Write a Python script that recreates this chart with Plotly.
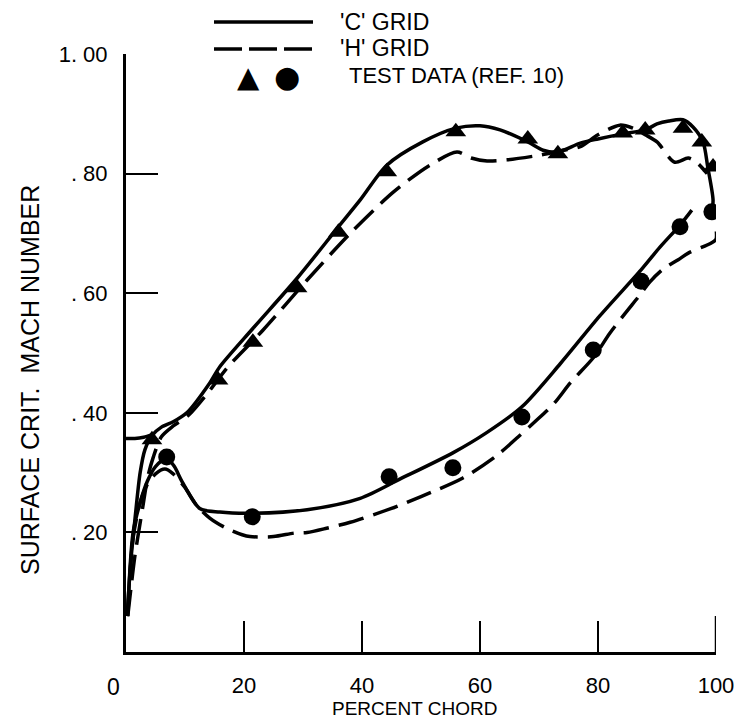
import plotly.graph_objects as go

# ---- data ----
# test data, upper surface (triangles)
tri_x = [4.4, 15.6, 21.5, 29.0, 36.0, 44.2, 55.9, 68.1, 73.2, 84.2, 88.0, 94.4, 97.6, 99.5]
tri_y = [0.355, 0.455, 0.518, 0.609, 0.702, 0.803, 0.870, 0.858, 0.833, 0.868, 0.873, 0.876, 0.853, 0.811]
# test data, lower surface (circles)
cir_x = [6.9, 21.4, 44.6, 55.4, 67.1, 79.2, 87.3, 93.9, 99.3]
cir_y = [0.326, 0.226, 0.293, 0.308, 0.393, 0.505, 0.620, 0.711, 0.736]

# 'C' grid, upper surface (solid), from leading-edge stagnation
cu_x = [0.2, 0.8, 1.5, 2.4, 3.2, 4.4, 6, 8, 10.3, 14.2, 15.9, 21.5, 29, 36, 39.7, 44.2, 50.3,
        55.9, 60, 63.4, 68.1, 70.7, 73.2, 77, 80, 84, 88, 90, 92, 94.4, 96.1, 97.8, 98.6, 99.5, 99.3]
cu_y = [0.06, 0.15, 0.22, 0.30, 0.338, 0.362, 0.376, 0.385, 0.40, 0.45, 0.477, 0.541, 0.625, 0.711,
        0.756, 0.814, 0.853, 0.876, 0.880, 0.873, 0.853, 0.839, 0.836, 0.851, 0.858, 0.866, 0.873,
        0.883, 0.888, 0.890, 0.878, 0.853, 0.811, 0.756, 0.736]
# 'C' grid, short branch starting at the axis
cb_x = [0, 1.5, 3, 4.4]
cb_y = [0.357, 0.357, 0.359, 0.363]
# 'C' grid, lower surface (solid)
cl_x = [0.3, 1.2, 2.4, 3.6, 5.0, 6.9, 8.2, 9.5, 12.5, 15.9, 21.4, 30.7, 39.7, 46.4, 55.4, 61.0,
        67.1, 73.6, 80.3, 87.3, 90.5, 93.9, 95.9]
cl_y = [0.07, 0.20, 0.25, 0.285, 0.31, 0.324, 0.31, 0.285, 0.24, 0.234, 0.232, 0.238, 0.257, 0.289,
        0.333, 0.366, 0.410, 0.482, 0.562, 0.639, 0.677, 0.714, 0.739]

# 'H' grid, upper surface (dashed)
hu_x = [0.3, 1.5, 2.8, 3.7, 4.6, 6, 8, 10.5, 14, 17.3, 23.2, 30.7, 38, 45.3, 51.5, 56.1, 58.5,
        61.2, 64.6, 70.2, 73.6, 77, 80, 83.7, 85.9, 88, 90, 93, 95.3, 96.8, 98.5]
hu_y = [0.06, 0.16, 0.24, 0.293, 0.325, 0.36, 0.378, 0.395, 0.435, 0.477, 0.538, 0.622, 0.70,
        0.769, 0.814, 0.836, 0.826, 0.821, 0.823, 0.831, 0.838, 0.845, 0.865, 0.881, 0.876, 0.865,
        0.853, 0.819, 0.826, 0.818, 0.80]
# 'H' grid, lower surface (dashed)
hl_x = [0.3, 1.2, 2.4, 3.6, 5, 6.6, 8, 10, 12, 14.2, 17, 19.7, 21, 25, 28.6, 30.7, 34, 38, 45,
        50, 57.1, 62.9, 66.5, 69.3, 72.5, 75.3, 79.2, 82, 84.5, 87.1, 88.8, 91, 93.6, 95.3, 99.2, 100, 100]
hl_y = [0.06, 0.19, 0.25, 0.28, 0.298, 0.306, 0.298, 0.275, 0.245, 0.224, 0.207, 0.196, 0.193,
        0.193, 0.199, 0.20, 0.207, 0.217, 0.24, 0.26, 0.291, 0.329, 0.36, 0.385, 0.415, 0.45,
        0.492, 0.533, 0.565, 0.597, 0.619, 0.64, 0.656, 0.667, 0.684, 0.69, 0.71]

x_ticks = [20, 40, 60, 80, 100]
x_labels = ["20", "40", "60", "80", "100"]
y_ticks = [0.2, 0.4, 0.6, 0.8, 1.0]
y_labels = [". 20", ". 40", ". 60", ". 80", "1. 00"]

FONT = "Liberation Sans, Arial, sans-serif"
LW = 3.5
DASH = "26px,10px"

fig = go.Figure()
line_solid = dict(color="black", width=LW, shape="spline", smoothing=0.8)
line_dash = dict(color="black", width=LW, shape="spline", smoothing=0.8, dash=DASH)

fig.add_trace(go.Scatter(x=cu_x, y=cu_y, mode="lines", line=line_solid, name="'C' GRID"))
fig.add_trace(go.Scatter(x=cb_x, y=cb_y, mode="lines", line=line_solid, showlegend=False))
fig.add_trace(go.Scatter(x=cl_x, y=cl_y, mode="lines", line=line_solid, showlegend=False))
fig.add_trace(go.Scatter(x=hu_x, y=hu_y, mode="lines", line=line_dash, name="'H' GRID"))
fig.add_trace(go.Scatter(x=hl_x, y=hl_y, mode="lines", line=line_dash, showlegend=False))
fig.add_trace(go.Scatter(x=tri_x, y=tri_y, mode="markers",
                         marker=dict(symbol="triangle-up", size=18, color="black"),
                         name="TEST DATA (REF. 10)"))
fig.add_trace(go.Scatter(x=cir_x, y=cir_y, mode="markers",
                         marker=dict(symbol="circle", size=17, color="black"), showlegend=False))

# body margin removed by post_script, so figure fills the 739x718 window
W, H = 739, 718
# plot area on screen: x 126..716 px, y 54..652 px
L, T = 126, 54
R, B = W - 716, H - 652
pw, ph = W - L - R, H - T - B


def px(sx):
    return (sx - L) / pw


def py(sy):
    return (H - B - sy) / ph


shapes = [
    dict(type="line", xref="paper", yref="paper", x0=px(214), x1=px(313), y0=py(22), y1=py(22),
         line=dict(color="black", width=LW)),
    dict(type="line", xref="paper", yref="paper", x0=px(214), x1=px(313), y0=py(49), y1=py(49),
         line=dict(color="black", width=LW, dash="28px,7px")),
    # end tick at the last x tick value (plotly drops the tick on the range edge)
    dict(type="line", xref="x", yref="paper", x0=x_ticks[-1], x1=x_ticks[-1], y0=0, y1=36 / ph,
         line=dict(color="black", width=2.5)),
]

annotations = [
    dict(text="'C' GRID", xref="paper", yref="paper", x=px(338), y=py(22), xanchor="left",
         yanchor="middle", showarrow=False, font=dict(family=FONT, size=23, color="black")),
    dict(text="'H' GRID", xref="paper", yref="paper", x=px(338), y=py(48), xanchor="left",
         yanchor="middle", showarrow=False, font=dict(family=FONT, size=23, color="black")),
    dict(text="TEST DATA (REF. 10)", xref="paper", yref="paper", x=px(347), y=py(76),
         xanchor="left", yanchor="middle", showarrow=False,
         font=dict(family=FONT, size=22, color="black")),
    dict(text="▲", xref="paper", yref="paper", x=px(248), y=py(77), xanchor="center",
         yanchor="middle", showarrow=False, font=dict(family="DejaVu Sans", size=29, color="black")),
    dict(text="●", xref="paper", yref="paper", x=px(287), y=py(77), xanchor="center",
         yanchor="middle", showarrow=False, font=dict(family="DejaVu Sans", size=30, color="black")),
    dict(text="0", xref="x", yref="paper", x=0, y=py(687), xshift=-13, xanchor="center",
         yanchor="middle", showarrow=False, font=dict(family=FONT, size=23, color="black")),
    dict(text="PERCENT CHORD", xref="paper", yref="paper", x=px(414), y=py(708),
         xanchor="center", yanchor="middle", showarrow=False,
         font=dict(family=FONT, size=19, color="black")),
    dict(text="SURFACE CRIT.  MACH NUMBER", xref="paper", yref="paper", x=px(30), y=py(380),
         xanchor="center", yanchor="middle", textangle=-90, showarrow=False,
         font=dict(family=FONT, size=25, color="black")),
]

fig.update_layout(
    width=W, height=H,
    margin=dict(l=L, r=R, t=T, b=B, autoexpand=False),
    paper_bgcolor="white", plot_bgcolor="white",
    showlegend=False,
    shapes=shapes, annotations=annotations,
    font=dict(family=FONT, size=22, color="black"),
)
fig.update_xaxes(range=[0, 100], tickvals=x_ticks, ticktext=x_labels, ticks="inside",
                 ticklen=31, tickwidth=2, tickcolor="black", showline=True, linecolor="black",
                 linewidth=3, showgrid=False, zeroline=False, ticklabelstandoff=12,
                 ticklabeloverflow="allow", automargin=False,
                 tickfont=dict(family=FONT, size=22, color="black"))
fig.update_yaxes(range=[0, 1.0], tickvals=y_ticks, ticktext=y_labels, ticks="inside",
                 ticklen=32, tickwidth=2, tickcolor="black", showline=True, linecolor="black",
                 linewidth=3, showgrid=False, zeroline=False, ticklabelstandoff=11,
                 ticklabeloverflow="allow", automargin=False,
                 tickfont=dict(family=FONT, size=22, color="black"))

fig.write_html(
    "out.html",
    config={"displayModeBar": False},
    post_script="document.body.style.margin='0';document.body.style.overflow='hidden';",
)
